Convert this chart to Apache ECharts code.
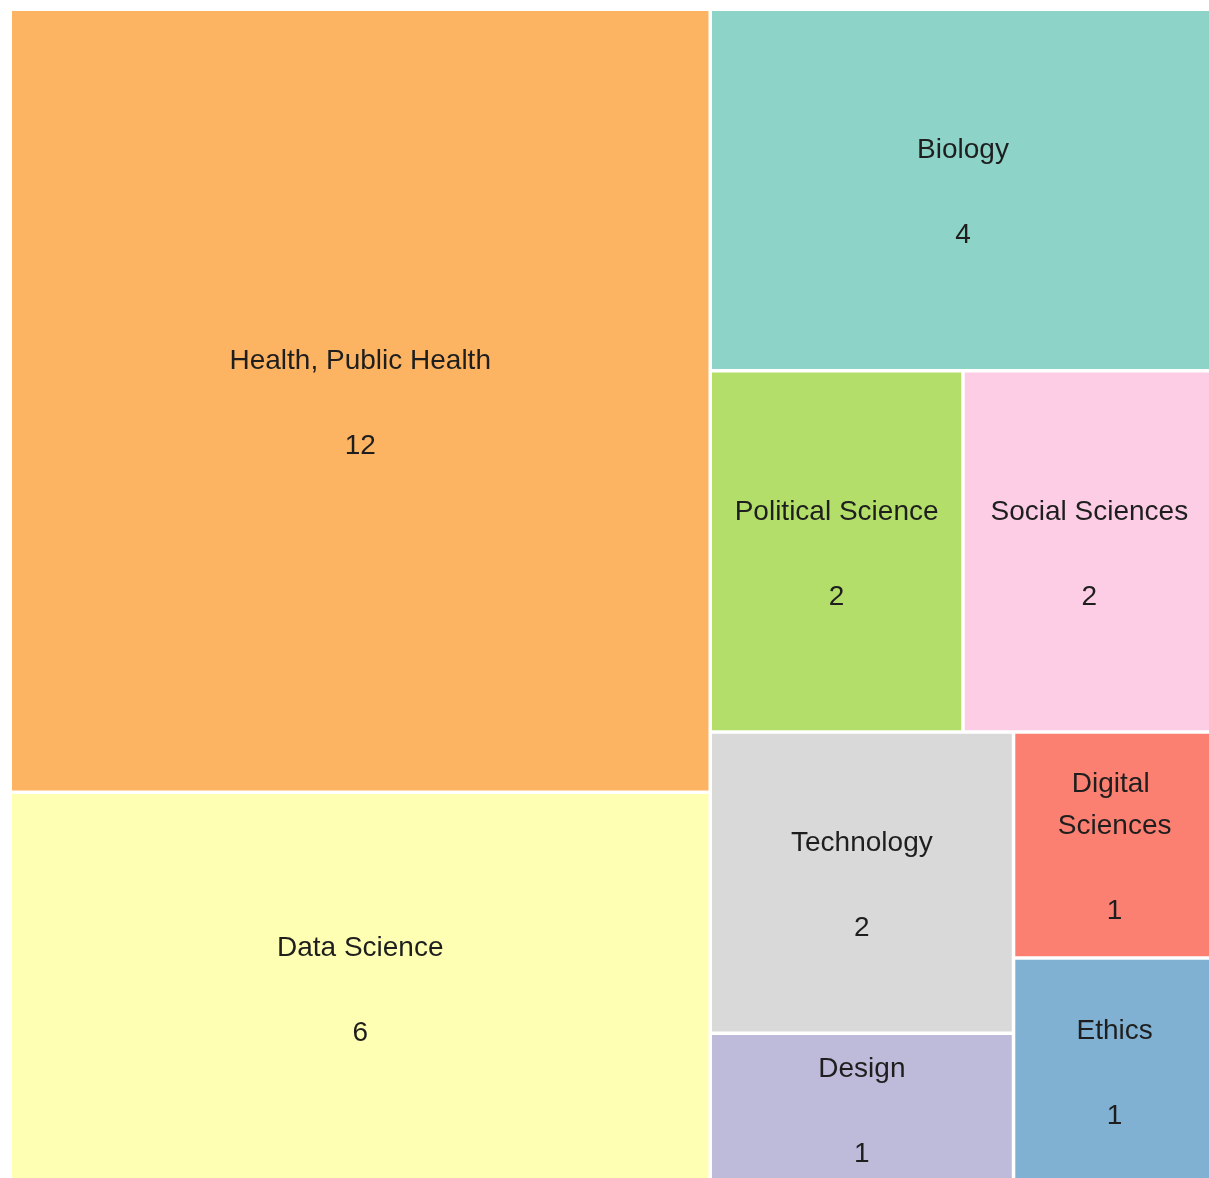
<!DOCTYPE html>
<html>
<head>
<meta charset="utf-8">
<script src="https://cdn.jsdelivr.net/npm/echarts@6/dist/echarts.min.js"></script>
<style>
html,body{margin:0;padding:0;background:#fff;overflow:hidden;}
#chart{width:1209px;height:1178px;}
</style>
</head>
<body>
<div id="chart"></div>
<script>
const categories = ['Health, Public Health', 'Data Science', 'Biology', 'Political Science', 'Social Sciences', 'Technology', 'Design', 'Digital Sciences', 'Ethics'];
const values = [12, 6, 4, 2, 2, 2, 1, 1, 1];
const colors = ['#FDB462', '#FFFFB3', '#8DD3C7', '#B3DE69', '#FCCDE5', '#D9D9D9', '#BEBADA', '#FB8072', '#80B1D3'];

const data = categories.map((name, i) => ({
  name: name,
  value: values[i],
  itemStyle: { color: colors[i] }
}));

const chart = echarts.init(document.getElementById('chart'), null, { renderer: 'canvas' });
chart.setOption({
  animation: false,
  backgroundColor: '#fff',
  series: [{
    type: 'treemap',
    left: 12,
    top: 11,
    width: 1202,
    height: 1171,
    roam: false,
    nodeClick: false,
    sort: false,
    squareRatio: 1,
    breadcrumb: { show: false },
    itemStyle: { borderWidth: 0, gapWidth: 3.5, borderColor: '#fff' },
    label: {
      show: true,
      position: 'inside',
      formatter: '{b}\n\n{c}',
      color: '#1e1e1e',
      fontSize: 28,
      lineHeight: 42.5,
      fontFamily: 'Liberation Sans',
      align: 'center',
      verticalAlign: 'middle',
      overflow: 'break',
      offset: [0, 3],
      textBorderWidth: 0
    },
    upperLabel: { show: false },
    data: data
  }]
});
</script>
</body>
</html>
